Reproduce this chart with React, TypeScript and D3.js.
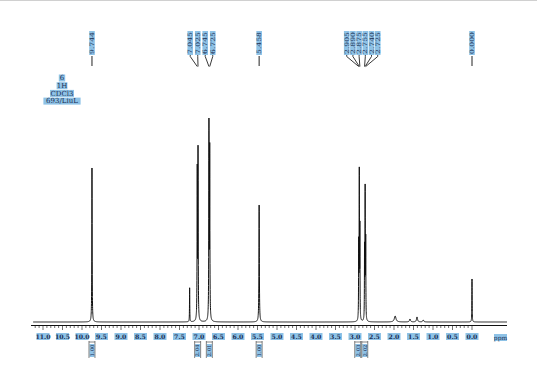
import React from "react";
import * as d3 from "d3";

const W = 537;
const H = 382;

// Spectrum lines (ppm, relative intensity, half width in ppm)
const peakPpm = [9.744, 7.24, 7.045, 7.025, 6.745, 6.725, 5.458, 2.905, 2.89, 2.875, 2.755, 2.74, 2.725, 1.97, 1.59, 1.41, 1.25, 0.0];
const peakHeight = [77, 17, 74, 84, 97, 84, 58.5, 37, 72, 45, 35, 64, 39, 3, 1.5, 2.5, 1, 21.5];
const peakWidth = [0.005, 0.004, 0.005, 0.005, 0.005, 0.005, 0.006, 0.004, 0.004, 0.004, 0.004, 0.004, 0.004, 0.025, 0.015, 0.015, 0.015, 0.004];

// Peak pick labels
const labelPpm = [9.744, 7.045, 7.025, 6.745, 6.725, 5.458, 2.905, 2.89, 2.875, 2.755, 2.74, 2.725, 0.0];
const labelGroup = [0, 1, 1, 1, 1, 2, 3, 3, 3, 3, 3, 3, 4];

// Integrals
const integralPpm = [9.744, 7.035, 6.735, 5.458, 2.93, 2.75];
const integralValue = ["1.00", "2.04", "2.01", "1.00", "2.03", "2.02"];

// Axis tick labels
const tickLabels = ["11.0", "10.5", "10.0", "9.5", "9.0", "8.5", "8.0", "7.5", "7.0", "6.5", "6.0", "5.5", "5.0", "4.5", "4.0", "3.5", "3.0", "2.5", "2.0", "1.5", "1.0", "0.5", "0.0"];

// Sample info
const infoLines = ["6", "1H", "CDCl3", "693/LiuL"];

const BLUE = "#8ec2e6";
const TXT = "#1b2f55";

export default function App() {
  const x = d3.scaleLinear().domain([11.0, 0.0]).range([43, 472]);
  const y = d3.scaleLinear().domain([0, 100]).range([322, 122]);
  const ppmMax = x.invert(33);
  const ppmMin = x.invert(507);

  const pts: number[] = [];
  for (let p = ppmMin; p <= ppmMax; p += 0.005) pts.push(p);
  peakPpm.forEach((c, i) => {
    const w = peakWidth[i];
    for (let k = -40; k <= 40; k++) pts.push(c + (k * w) / 4);
  });
  pts.sort((a, b) => b - a);
  const intensity = (p: number) =>
    peakPpm.reduce((s, c, i) => {
      const w = peakWidth[i];
      const d = p - c;
      return s + (peakHeight[i] * w * w) / (w * w + d * d);
    }, 0);
  const line = d3
    .line<number>()
    .x((p) => x(p))
    .y((p) => y(intensity(p)));
  const path = line(pts.filter((p) => p >= ppmMin && p <= ppmMax)) || "";

  const groups = d3.groups(
    labelPpm.map((p, i) => ({ p, i, g: labelGroup[i] })),
    (d) => d.g
  );
  const labelX: number[] = [];
  groups.forEach(([, items]) => {
    const spacing = items.length >= 6 ? 6.2 : 7.5;
    const cx = d3.mean(items, (d) => x(d.p)) as number;
    const cx2 = items.length >= 6 ? cx : items.length > 1 ? cx - 2 : cx;
    items.forEach((d, k) => {
      labelX[d.i] = cx2 + (k - (items.length - 1) / 2) * spacing;
    });
  });

  const minorTicks = d3.range(0, 113).map((k) => 11.2 - k * 0.1).filter((p) => x(p) >= 33 && x(p) <= 507);

  return (
    <svg
      width={W}
      height={H}
      style={{ position: "absolute", left: 0, top: 0, background: "#fff", fontFamily: "'DejaVu Serif', 'Liberation Serif', serif" }}
    >
      <rect x={0} y={0} width={W} height={H} fill="#fff" />
      <line x1={0} x2={W} y1={0.5} y2={0.5} stroke="#d0d0d0" />

      {infoLines.map((t, i) => {
        const tw = t.length * 4.4 + 2;
        return (
          <g key={"info" + i}>
            <rect x={62 - tw / 2} y={74.5 + i * 7.7} width={tw} height={7} fill={BLUE} />
            <text x={62} y={80.3 + i * 7.7} fontSize={7} textAnchor="middle" fill={TXT}>
              {t}
            </text>
          </g>
        );
      })}

      {labelPpm.map((p, i) => {
        const lx = labelX[i];
        const px = x(p);
        const single = groups.find(([g]) => g === labelGroup[i])![1].length === 1;
        return (
          <g key={"pl" + i}>
            <rect x={lx - 2.8} y={31} width={5.6} height={24} fill={BLUE} />
            <text
              transform={`translate(${lx + 2},${54}) rotate(-90)`}
              fontSize={6}
              fill={TXT}
              textLength={22}
              lengthAdjust="spacingAndGlyphs"
            >
              {p.toFixed(3)}
            </text>
            {single ? (
              <line x1={lx} x2={px} y1={56} y2={66} stroke="#222" strokeWidth={1} />
            ) : (
              <path d={`M${lx},55 L${lx},56.5 L${px},66.5`} fill="none" stroke="#222" strokeWidth={0.9} />
            )}
          </g>
        );
      })}

      <path d={path} fill="none" stroke="#111" strokeWidth={1} />

      <line x1={31} x2={507} y1={325.5} y2={325.5} stroke="#111" strokeWidth={1} />
      {minorTicks.map((p, i) => {
        const major = Math.abs(Math.round(p * 2) - p * 2) < 1e-6;
        return (
          <line
            key={"t" + i}
            x1={x(p)}
            x2={x(p)}
            y1={326}
            y2={major ? 330 : 328}
            stroke="#333"
            strokeWidth={0.7}
          />
        );
      })}
      {tickLabels.map((t, i) => {
        const p = +t;
        return (
          <g key={"tl" + i}>
            <rect x={x(p) - 6.5} y={333} width={13} height={7} fill={BLUE} />
            <text x={x(p)} y={338.8} fontSize={6.2} fontWeight="bold" textAnchor="middle" fill={TXT}>
              {t}
            </text>
          </g>
        );
      })}
      <rect x={494} y={334} width={13} height={7} fill={BLUE} />
      <text x={500.5} y={339.5} fontSize={6} textAnchor="middle" fill={TXT}>
        ppm
      </text>

      {integralPpm.map((p, i) => {
        const cx = x(p);
        return (
          <g key={"int" + i}>
            <rect x={cx - 2.5} y={344} width={5} height={13} fill={BLUE} />
            <path
              d={`M${cx - 3},341 L${cx - 3},358 M${cx + 3},341 L${cx + 3},358 M${cx - 3},342 L${cx + 3},342`}
              stroke="#333"
              strokeWidth={0.6}
              fill="none"
            />
            <text
              transform={`translate(${cx + 1.8},${356.5}) rotate(-90)`}
              fontSize={5}
              fill={TXT}
              textLength={12}
              lengthAdjust="spacingAndGlyphs"
            >
              {integralValue[i]}
            </text>
          </g>
        );
      })}
    </svg>
  );
}
